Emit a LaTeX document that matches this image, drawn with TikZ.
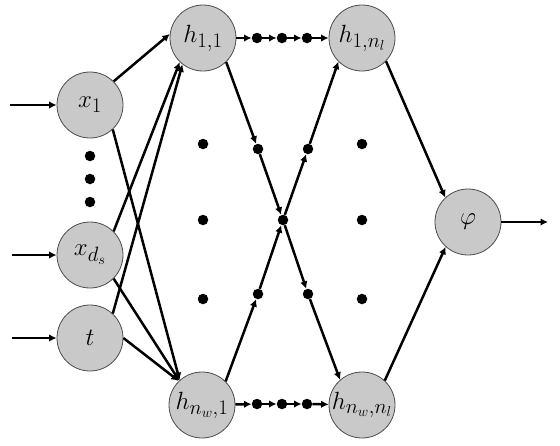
\documentclass[tikz,border=0pt]{standalone}
\usetikzlibrary{arrows.meta}
\begin{document}
\begin{tikzpicture}[x=1pt,y=-1pt,
  neuron/.style={circle,draw=black!70,line width=0.8pt,fill=black!21,minimum size=66pt,inner sep=0pt,font=\fontsize{29}{32}\selectfont},
  blob/.style={circle,fill=black,minimum size=10.5pt,inner sep=0pt},
  arr/.style={line width=2.5pt,-{Latex[length=7.5pt,width=7.5pt]}},
]
\useasboundingbox (0,0) rectangle (560,445);
% neurons
\node[neuron] (x1)  at (90,105)  {$x_1$};
\node[neuron] (xds) at (90,255)  {$x_{d_s}$};
\node[neuron] (t)   at (90,338)  {$t$};
\node[neuron] (h11) at (203,38)  {$h_{1,1}$};
\node[neuron] (hn1) at (202,405) {$h_{n_w,1}$};
\node[neuron] (h1n) at (362,38)  {$h_{1,n_l}$};
\node[neuron] (hnn) at (362,405) {$h_{n_w,n_l}$};
\node[neuron] (phi) at (468,222) {$\varphi$};
% vertical ellipsis dots
\node[blob] (v1) at (90,156) {};
\node[blob] (v2) at (90,179) {};
\node[blob] (v3) at (90,202) {};
\node[blob] (g1) at (203,144) {};
\node[blob] (g2) at (203,220) {};
\node[blob] (g3) at (203,299) {};
\node[blob] (g4) at (362,144) {};
\node[blob] (g5) at (362,220) {};
\node[blob] (g6) at (362,299) {};
% chain dots
\node[blob] (a1) at (257,38) {};
\node[blob] (a2) at (282,38) {};
\node[blob] (a3) at (307,38) {};
\node[blob] (b1) at (257,404) {};
\node[blob] (b2) at (282,404) {};
\node[blob] (b3) at (307,404) {};
% crossing dots
\node[blob] (c1) at (258,149) {};
\node[blob] (c2) at (308,149) {};
\node[blob] (cc) at (283,220) {};
\node[blob] (c3) at (258,294) {};
\node[blob] (c4) at (308,294) {};
% input / output free ends
\coordinate (in1) at (10,105);
\coordinate (in2) at (12,255);
\coordinate (in3) at (12,338);
\coordinate (out) at (548,222);
% input arrows
\draw[arr] (in1) -- (x1);
\draw[arr] (in2) -- (xds);
\draw[arr] (in3) -- (t);
% input layer to first hidden layer
\draw[arr] (x1.45) -- (h11.173);
\draw[arr] (x1.-47) -- (hn1.132);
\draw[arr] (xds.45) -- (h11.-134);
\draw[arr] (xds.-45) -- (hn1.133);
\draw[arr] (t.47) -- (h11.-128);
\draw[arr] (t.0) -- (hn1.134);
% horizontal chains
\draw[arr] (h11) -- (a1);
\draw[arr] (a1) -- (a2);
\draw[arr] (a2) -- (a3);
\draw[arr] (a3) -- (h1n);
\draw[arr] (hn1) -- (b1);
\draw[arr] (b1) -- (b2);
\draw[arr] (b2) -- (b3);
\draw[arr] (b3) -- (hnn);
% crossing
\draw[arr] (h11.-46) -- (c1);
\draw[arr] (c1) -- (cc);
\draw[arr] (cc) -- (c4);
\draw[arr] (c4) -- (hnn.131);
\draw[arr] (hn1.45) -- (c3);
\draw[arr] (c3) -- (cc);
\draw[arr] (cc) -- (c2);
\draw[arr] (c2) -- (h1n.-135);
% output
\draw[arr] (h1n.-44) -- (phi.133);
\draw[arr] (hnn.47) -- (phi.-132);
\draw[arr] (phi) -- (out);
\end{tikzpicture}
\end{document}
